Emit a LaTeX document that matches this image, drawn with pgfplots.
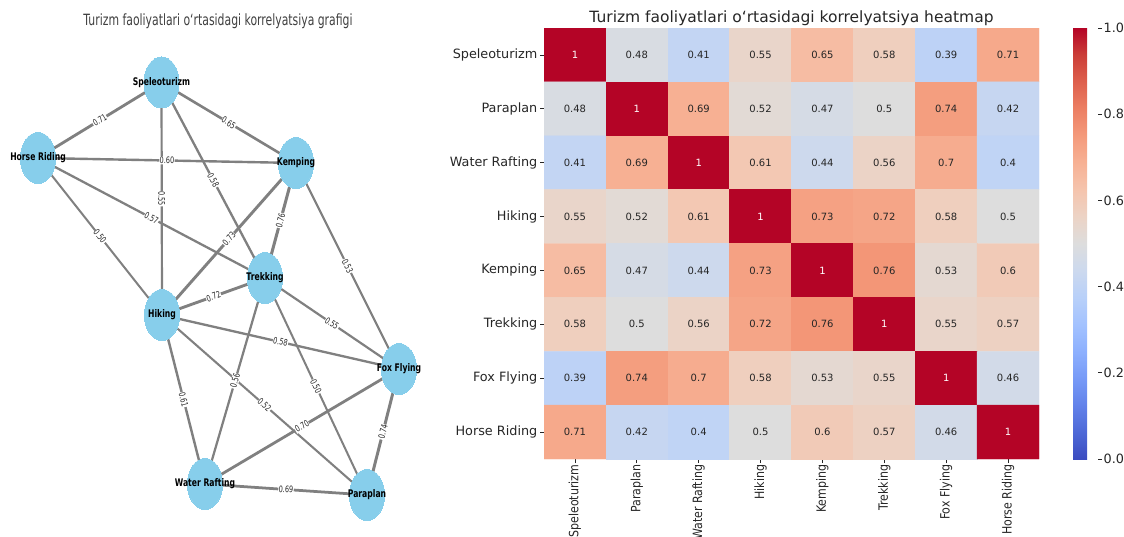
\documentclass[border=0pt]{standalone}
\usepackage{pgfplots}
\pgfplotsset{compat=1.18}
\usepackage{pgfplotstable}
\usepackage{fontspec}
\setmainfont{DejaVu Sans}
\newfontfamily\condfont[FakeStretch=0.70]{DejaVu Sans}
\newfontfamily\labfont[FakeStretch=0.72]{DejaVu Sans}
\newfontfamily\nodefont[FakeStretch=0.73]{DejaVu Sans}
\newfontfamily\xtfont[FakeStretch=0.86]{DejaVu Sans}
\definecolor{skyblue}{RGB}{135,206,235}
\definecolor{edgegray}{RGB}{128,128,128}
\definecolor{txt}{RGB}{38,38,38}
\pgfplotsset{colormap={coolwarm}{rgb255=(59,76,192) rgb255=(77,104,215) rgb255=(98,130,234) rgb255=(119,154,247) rgb255=(141,176,254) rgb255=(163,194,255) rgb255=(184,208,249) rgb255=(204,217,238) rgb255=(221,221,221) rgb255=(236,211,197) rgb255=(245,196,173) rgb255=(247,177,148) rgb255=(244,154,123) rgb255=(236,127,99) rgb255=(222,96,77) rgb255=(203,62,56) rgb255=(180,4,38)}}
\pgfplotsset{
  edge/.style={draw=edgegray, line width=#1*4pt, mark=none, forget plot},
}
\tikzset{
  elab/.style={pos=0.5, sloped, fill=white, inner sep=0.5pt, font=\labfont\fontsize{9}{10}\selectfont, text=black!85},
}
\pgfplotstableread[col sep=comma]{
x,y,label
161.5,454.5,Speleoturizm
38,379,Horse Riding
296,374,Kemping
265,259,Trekking
162,222,Hiking
399,168,Fox Flying
205,53,Water Rafting
367,42,Paraplan
}\nodestab
\pgfplotstableread{
x y c
0 0 1
1 0 0.48
2 0 0.41
3 0 0.55
4 0 0.65
5 0 0.58
6 0 0.39
7 0 0.71
0 1 0.48
1 1 1
2 1 0.69
3 1 0.52
4 1 0.47
5 1 0.5
6 1 0.74
7 1 0.42
0 2 0.41
1 2 0.69
2 2 1
3 2 0.61
4 2 0.44
5 2 0.56
6 2 0.7
7 2 0.4
0 3 0.55
1 3 0.52
2 3 0.61
3 3 1
4 3 0.73
5 3 0.72
6 3 0.58
7 3 0.5
0 4 0.65
1 4 0.47
2 4 0.44
3 4 0.73
4 4 1
5 4 0.76
6 4 0.53
7 4 0.6
0 5 0.58
1 5 0.5
2 5 0.56
3 5 0.72
4 5 0.76
5 5 1
6 5 0.55
7 5 0.57
0 6 0.39
1 6 0.74
2 6 0.7
3 6 0.58
4 6 0.53
5 6 0.55
6 6 1
7 6 0.46
0 7 0.71
1 7 0.42
2 7 0.4
3 7 0.5
4 7 0.6
5 7 0.57
6 7 0.46
7 7 1
}\hm
\begin{document}
\begin{tikzpicture}
\path[use as bounding box] (0pt,0pt) rectangle (1124pt,537pt);
% ---------------- network graph ----------------
\begin{axis}[at={(0pt,0pt)}, anchor=south west, scale only axis,
  width=430pt, height=537pt, xmin=0, xmax=430, ymin=0, ymax=537,
  hide axis, clip=false,
  title={Turizm faoliyatlari o‘rtasidagi korrelyatsiya grafigi},
  title style={at={(0.507,0.95)}, anchor=center, font=\condfont\fontsize{15.5}{17}\selectfont, text=black!75}]
% Speleoturizm
\addplot[edge=0.71] coordinates {(161.5,454.5) (38,379)} node[elab] {0.71};
\addplot[edge=0.65] coordinates {(161.5,454.5) (296,374)} node[elab] {0.65};
\addplot[edge=0.55] coordinates {(161.5,454.5) (162,222)} node[elab] {0.55};
\addplot[edge=0.58] coordinates {(161.5,454.5) (265,259)} node[elab] {0.58};
% Horse Riding
\addplot[edge=0.60] coordinates {(38,379) (296,374)} node[elab] {0.60};
\addplot[edge=0.57] coordinates {(38,379) (265,259)} node[elab] {0.57};
\addplot[edge=0.50] coordinates {(38,379) (162,222)} node[elab] {0.50};
% Kemping
\addplot[edge=0.73] coordinates {(296,374) (162,222)} node[elab] {0.73};
\addplot[edge=0.76] coordinates {(296,374) (265,259)} node[elab] {0.76};
\addplot[edge=0.53] coordinates {(296,374) (399,168)} node[elab] {0.53};
% Hiking
\addplot[edge=0.72] coordinates {(162,222) (265,259)} node[elab] {0.72};
\addplot[edge=0.58] coordinates {(162,222) (399,168)} node[elab] {0.58};
\addplot[edge=0.61] coordinates {(162,222) (205,53)} node[elab] {0.61};
\addplot[edge=0.52] coordinates {(162,222) (367,42)} node[elab] {0.52};
% Trekking
\addplot[edge=0.55] coordinates {(265,259) (399,168)} node[elab] {0.55};
\addplot[edge=0.56] coordinates {(265,259) (205,53)} node[elab] {0.56};
\addplot[edge=0.50] coordinates {(265,259) (367,42)} node[elab] {0.50};
% Fox Flying, Water Rafting
\addplot[edge=0.70] coordinates {(399,168) (205,53)} node[elab] {0.70};
\addplot[edge=0.74] coordinates {(399,168) (367,42)} node[elab] {0.74};
\addplot[edge=0.69] coordinates {(205,53) (367,42)} node[elab] {0.69};
% nodes
\addplot[only marks, mark=*, mark size=25.5pt, color=skyblue,
  mark options={fill=skyblue, draw=skyblue, line width=0pt, xscale=0.69},
  point meta=explicit symbolic, nodes near coords,
  every node near coord/.append style={anchor=center, inner sep=0pt,
    font=\nodefont\bfseries\fontsize{10.5}{12}\selectfont, text=black}]
  table[x=x, y=y, meta=label] {\nodestab};
\end{axis}
% ---------------- heatmap ----------------
\begin{axis}[at={(544pt,78pt)}, anchor=south west, scale only axis,
  width=495pt, height=431pt,
  xmin=-0.5, xmax=7.5, ymin=-0.5, ymax=7.5, y dir=reverse,
  enlargelimits=false,
  xtick={0,...,7}, ytick={0,...,7},
  xticklabels={Speleoturizm,Paraplan,Water Rafting,Hiking,Kemping,Trekking,Fox Flying,Horse Riding},
  yticklabels={Speleoturizm,Paraplan,Water Rafting,Hiking,Kemping,Trekking,Fox Flying,Horse Riding},
  tick pos=left, tick align=outside, major tick length=4pt,
  tick style={draw=txt, line width=0.8pt},
  separate axis lines, axis line style={draw=none},
  xticklabel style={rotate=90, anchor=east, inner sep=1.5pt, font=\xtfont\fontsize{12.8}{14}\selectfont, text=txt},
  yticklabel style={inner sep=2.5pt, font=\fontsize{12.8}{14}\selectfont, text=txt},
  colormap name=coolwarm, point meta min=0, point meta max=1,
  /pgf/number format/assume math mode=true,
  title={Turizm faoliyatlari o‘rtasidagi korrelyatsiya heatmap},
  title style={at={(0.5,1)}, anchor=base, yshift=0pt, font=\fontsize{15.5}{17}\selectfont, text=txt},
  colorbar,
  colorbar shift/.style={},
  colorbar style={at={(parent axis.north east)}, anchor=north west, xshift=34pt,
    scale only axis, width=25pt, height=431pt, y dir=normal,
    title={}, xtick=\empty, ytick={0,0.2,0.4,0.6,0.8,1},
    yticklabel={\pgfmathprintnumber{\tick}},
    ytick pos=right, yticklabel pos=right,
    tick align=outside, major tick length=4pt, tick style={draw=txt, line width=0.8pt},
    axis line style={draw=none},
    yticklabel style={font=\fontsize{12.8}{14}\selectfont, text=txt, inner sep=1.5pt,
      /pgf/number format/fixed, /pgf/number format/fixed zerofill,
      /pgf/number format/precision=1, /pgf/number format/assume math mode=true}},
]
\addplot[matrix plot*, mesh/cols=8, point meta=explicit] table[x=x, y=y, meta=c] {\hm};
\addplot[only marks, mark=none, point meta=explicit,
  nodes near coords={\ifdim\pgfplotspointmetatransformed pt>900pt\color{white}\else\color{txt}\fi\pgfmathprintnumber{\pgfplotspointmeta}},
  every node near coord/.append style={anchor=center, font=\fontsize{10}{12}\selectfont}]
  table[x=x, y=y, meta=c] {\hm};
\end{axis}
\end{tikzpicture}
\end{document}
